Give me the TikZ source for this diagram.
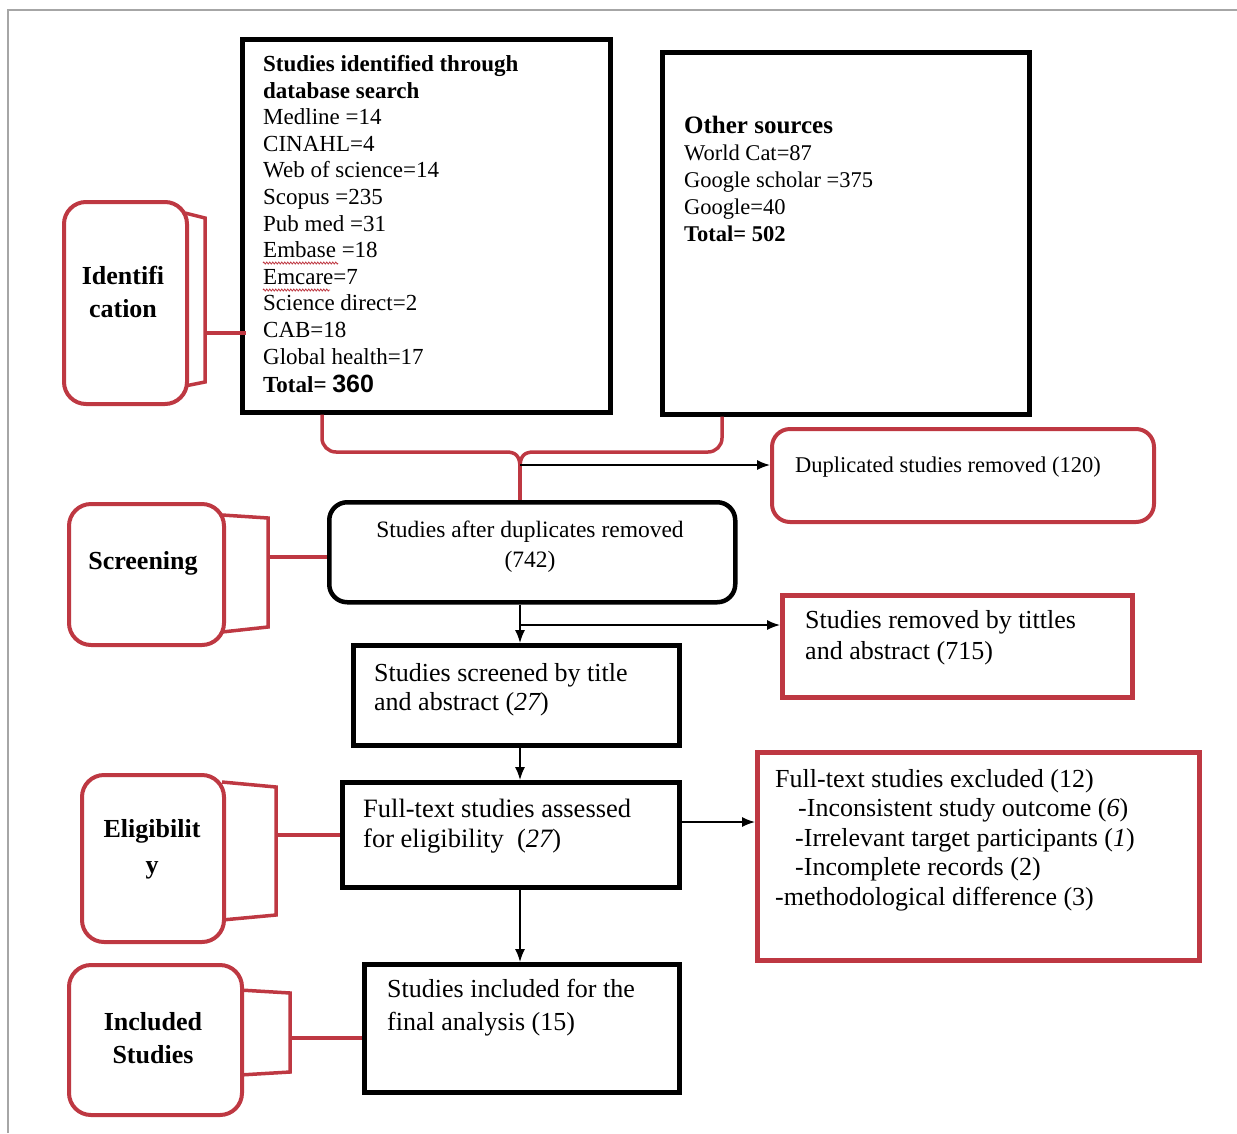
\documentclass[tikz,border=0pt]{standalone}
\usepackage{fontspec}
\setmainfont{Liberation Serif}
\newfontfamily\arialfont{Liberation Sans}
\usetikzlibrary{arrows.meta,decorations.pathmorphing}
\definecolor{boxred}{RGB}{190,56,66}
\tikzset{
  flowbox/.style={draw=black, line width=4.5pt, anchor=north west, inner sep=0pt},
  tagbox/.style={draw=boxred, fill=white, line width=4pt, rounded corners=22pt, anchor=north west, inner sep=0pt},
  redbox/.style={draw=boxred, line width=4.5pt, anchor=north west, inner sep=0pt},
  tagline/.style={draw=boxred, line width=3.5pt},
  flow/.style={line width=1.5pt, -{Latex[length=13pt,width=10pt]}},
  tagtext/.style={font=\fontsize{26}{33}\selectfont\bfseries, align=center, inner sep=0pt},
  boxtext/.style={align=left, anchor=north west, inner sep=0pt},
  squiggle/.style={boxred, line width=0.8pt, decorate, decoration={zigzag, segment length=3pt, amplitude=1pt}}
}
\begin{document}
\begin{tikzpicture}[x=1pt, y=-1pt]
\useasboundingbox (0,0) rectangle (1237,1133);
\draw[gray!70, line width=1.5pt] (8,1133) -- (8,10) -- (1237,10);

% sources
\node[flowbox, minimum width=368pt, minimum height=373pt] (db) at (240,37) {};
\node[boxtext, font=\fontsize{23}{26.6}\selectfont] (dbtext) at (263,55)
  {{\bfseries Studies identified through}\\ {\bfseries database search}\\ Medline =14\\ CINAHL=4\\
   Web of science=14\\ Scopus =235\\ Pub med =31\\ Embase =18\\ Emcare=7\\ Science direct=2\\
   CAB=18\\ Global health=17\\[2pt] {\bfseries Total= {\arialfont\fontsize{25}{29}\selectfont 360}}};
\draw[squiggle] (263,263) -- (338,263);
\draw[squiggle] (263,290) -- (330,290);
\node[flowbox, minimum width=367pt, minimum height=362pt] (oth) at (660,50) {};
\node[boxtext, font=\fontsize{22.5}{27}\selectfont] (othtext) at (684,116)
  {{\fontsize{25}{27}\selectfont\bfseries Other sources}\\ World Cat=87\\ Google scholar =375\\ Google=40\\ {\bfseries Total= 502}};

% main flow
\node[flowbox, rounded corners=18pt, minimum width=406pt, minimum height=100pt] (after) at (327,500) {};
\node[align=center, anchor=north, inner sep=0pt, font=\fontsize{23.5}{30}\selectfont] (aftertext) at (530,521)
  {Studies after duplicates removed\\ (742)};
\node[flowbox, minimum width=326pt, minimum height=100pt] (title) at (351,643) {};
\node[boxtext, font=\fontsize{26}{29.5}\selectfont] (titletext) at (374,663)
  {Studies screened by title\\ and abstract ({\itshape 27})};
\node[flowbox, minimum width=337pt, minimum height=105pt] (full) at (340,780) {};
\node[boxtext, font=\fontsize{26.5}{30}\selectfont] (fulltext) at (363,799)
  {Full-text studies assessed\\ for eligibility~ ({\itshape 27})};
\node[flowbox, minimum width=315pt, minimum height=128pt] (final) at (362,962) {};
\node[boxtext, font=\fontsize{26}{33}\selectfont] (finaltext) at (387,979)
  {Studies included for the\\ final analysis (15)};

% removed records
\node[redbox, line width=4pt, rounded corners=18pt, minimum width=382pt, minimum height=93pt] (dup) at (770,427) {};
\node[anchor=base west, inner sep=0pt, font=\fontsize{22.5}{25}\selectfont] (duptext) at (795,472)
  {Duplicated studies removed (120)};
\node[redbox, minimum width=350pt, minimum height=102pt] (rmv) at (780,593) {};
\node[boxtext, font=\fontsize{26}{31}\selectfont] (rmvtext) at (805,610)
  {Studies removed by tittles\\ and abstract (715)};
\node[redbox, minimum width=442pt, minimum height=208pt] (excl) at (755,750) {};
\node[boxtext, font=\fontsize{26}{29.5}\selectfont] (excltext) at (775,769)
  {Full-text studies excluded (12)\\
   \hspace*{23pt}-Inconsistent study outcome ({\itshape 6})\\
   \hspace*{20pt}-Irrelevant target participants ({\itshape 1})\\
   \hspace*{20pt}-Incomplete records (2)\\
   -methodological difference (3)};

% brace joining the sources
\coordinate (lb) at (322,0);
\coordinate (rb) at (722,0);
\coordinate (mid) at (520,468);
\draw[tagline, rounded corners=14pt] (lb |- db.south) -- (322,452) -- (506,452);
\draw[tagline, rounded corners=14pt] (rb |- oth.south) -- (722,452) -- (534,452);
\draw[tagline] (506,452) .. controls (516,452) and (520,456) .. (mid);
\draw[tagline] (534,452) .. controls (524,452) and (520,456) .. (mid);
\draw[tagline] (mid) -- (mid |- after.north);

% arrows
\coordinate (s1) at (520,465);
\coordinate (s2) at (520,625);
\coordinate (s3) at (0,822);
\draw[flow] (s1) -- (s1 -| dup.west);
\draw[flow, -] (s2 |- after.south) -- (s2);
\draw[flow] (s2) -- (s2 |- title.north);
\draw[flow] (s2) -- (s2 -| rmv.west);
\draw[flow] (s2 |- title.south) -- (s2 |- full.north);
\draw[flow] (s3 -| full.east) -- (s3 -| excl.west);
\draw[flow] (s2 |- full.south) -- (s2 |- final.north);

% stage tags
\draw[tagline] (185,213) -- (205,218) -- (205,382) -- (185,386);
\node[tagbox, minimum width=123pt, minimum height=202pt] (id) at (62,200) {};
\node[tagtext] (idtext) at (123,292) {Identifi\\ cation};
\coordinate (t1) at (205,333);
\draw[tagline] (t1) -- ([xshift=6pt]t1 -| db.west);

\draw[tagline] (222,515) -- (268,518) -- (268,627) -- (222,632);
\node[tagbox, minimum width=155pt, minimum height=141pt] (scr) at (67,502) {};
\node[tagtext] (scrtext) at (143,563) {Screening};
\coordinate (t2) at (268,557);
\draw[tagline] (t2) -- (t2 -| after.west);

\draw[tagline] (222,782) -- (276,787) -- (276,915) -- (222,920);
\node[tagbox, minimum width=142pt, minimum height=167pt] (elig) at (80,773) {};
\node[tagtext, font=\fontsize{26}{36}\selectfont\bfseries] (eligtext) at (152,849) {Eligibilit\\ y};
\coordinate (t3) at (276,835);
\draw[tagline] (t3) -- (t3 -| full.west);

\draw[tagline] (240,990) -- (290,993) -- (290,1072) -- (240,1075);
\node[tagbox, minimum width=173pt, minimum height=150pt] (incl) at (67,963) {};
\node[tagtext] (incltext) at (153,1038) {Included\\ Studies};
\coordinate (t4) at (290,1038);
\draw[tagline] (t4) -- (t4 -| final.west);
\end{tikzpicture}
\end{document}
